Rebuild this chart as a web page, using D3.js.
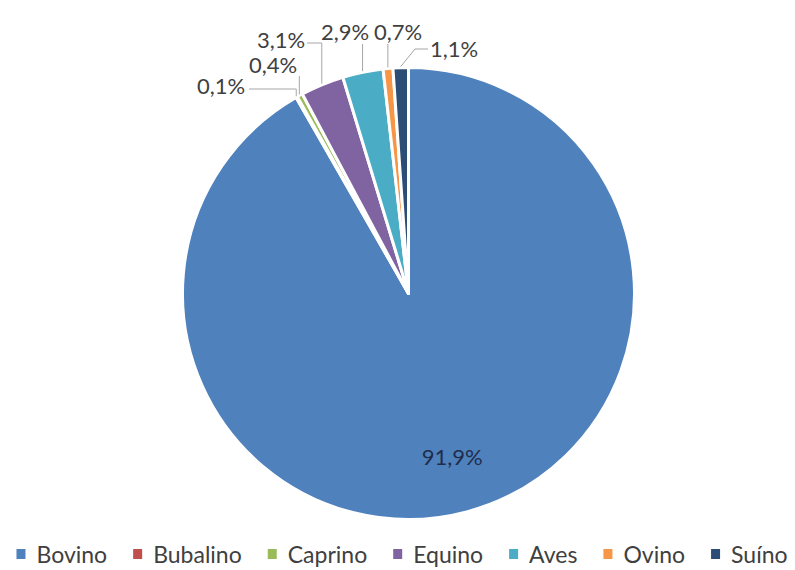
<!DOCTYPE html>
<html><head><meta charset="utf-8">
<script src="https://cdn.jsdelivr.net/npm/d3@7/dist/d3.min.js"></script>
<style>body{margin:0;background:#fff}svg{display:block}</style>
</head><body>
<script>
const categories = ["Bovino","Bubalino","Caprino","Equino","Aves","Ovino","Suíno"];
const values = [91.9, 0.1, 0.4, 3.1, 2.9, 0.7, 1.1];
const labels = ["91,9%","0,1%","0,4%","3,1%","2,9%","0,7%","1,1%"];
const colors = ["#4F81BD","#C0504D","#9BBB59","#8064A2","#4BACC6","#F79646","#2C4D75"];

const W = 795, H = 570;
const cx = 408.5, cy = 293.5, R = 226;
const svg = d3.select("body").append("svg").attr("width", W).attr("height", H);
svg.append("rect").attr("width", W).attr("height", H).attr("fill", "#fff");

const data = categories.map((c,i)=>({cat:c, v:values[i], lab:labels[i], col:colors[i]}));
const pie = d3.pie().value(d=>d.v).sort(null);
const arcs = pie(data);
const arc = d3.arc().innerRadius(0).outerRadius(R);
const g = svg.append("g").attr("transform", `translate(${cx},${cy})`);
g.selectAll("path").data(arcs).enter().append("path")
  .attr("d", arc).attr("fill", d=>d.data.col)
  .attr("stroke", "#fff").attr("stroke-width", 3).attr("stroke-linejoin","round");

// inside label for large slice
const big = arcs[0];
const mid = (big.startAngle + big.endAngle)/2;
g.append("text").attr("x", 0.75*R*Math.sin(mid)).attr("y", -0.75*R*Math.cos(mid)+8)
  .attr("text-anchor","middle").attr("font-family","Lato, sans-serif").attr("font-size",22)
  .attr("fill","#1F2D4D").text(big.data.lab);

// outside labels layout (text position in absolute px, leader style)
const layout = {
  "Bubalino": {x:197, y:94, type:"h", lx:249, ly:89},
  "Caprino":  {x:249, y:73, type:"v", lx:null, ly:76},
  "Equino":   {x:257, y:48, type:"h", lx:307, ly:43},
  "Aves":     {x:321, y:40, type:"v", lx:null, ly:44},
  "Ovino":    {x:374, y:40, type:"v", lx:null, ly:44},
  "Suíno":    {x:430, y:57, type:"d", lx:428, ly:49}
};
const lg = svg.append("g");
arcs.slice(1).forEach(a=>{
  const L = layout[a.data.cat];
  const m = (a.startAngle + a.endAngle)/2;
  const px = cx + (R+1)*Math.sin(m), py = cy - (R+1)*Math.cos(m);
  let pts;
  if (L.type === "h") pts = [[L.lx, L.ly],[px, L.ly],[px, py]];
  else if (L.type === "v") pts = [[px, L.ly],[px, py]];
  else pts = [[L.lx, L.ly],[L.lx-13, L.ly],[px, py]];
  lg.append("path").attr("d", d3.line()(pts)).attr("fill","none")
    .attr("stroke","#A6A6A6").attr("stroke-width",1);
  lg.append("text").attr("x", L.x).attr("y", L.y)
    .attr("font-family","Lato, sans-serif").attr("font-size",22).attr("fill","#404040")
    .text(a.data.lab);
});

// legend
const leg = svg.append("g");
const items = [];
data.forEach(d=>{
  const it = leg.append("g");
  it.append("rect").attr("x", 0).attr("y", -14).attr("width", 9).attr("height", 10).attr("fill", d.col);
  const t = it.append("text").attr("x", 20).attr("y", 0).attr("font-family","Lato, sans-serif")
    .attr("font-size", 23).attr("fill","#404040").text(d.cat);
  const w = 20 + t.node().getComputedTextLength();
  items.push({it, w});
});
const gap = 26;
const total = d3.sum(items, d=>d.w) + gap*(items.length-1);
let x = 402 - total/2;
items.forEach(o=>{ o.it.attr("transform", `translate(${x},563)`); x += o.w + gap; });
</script>
</body></html>
